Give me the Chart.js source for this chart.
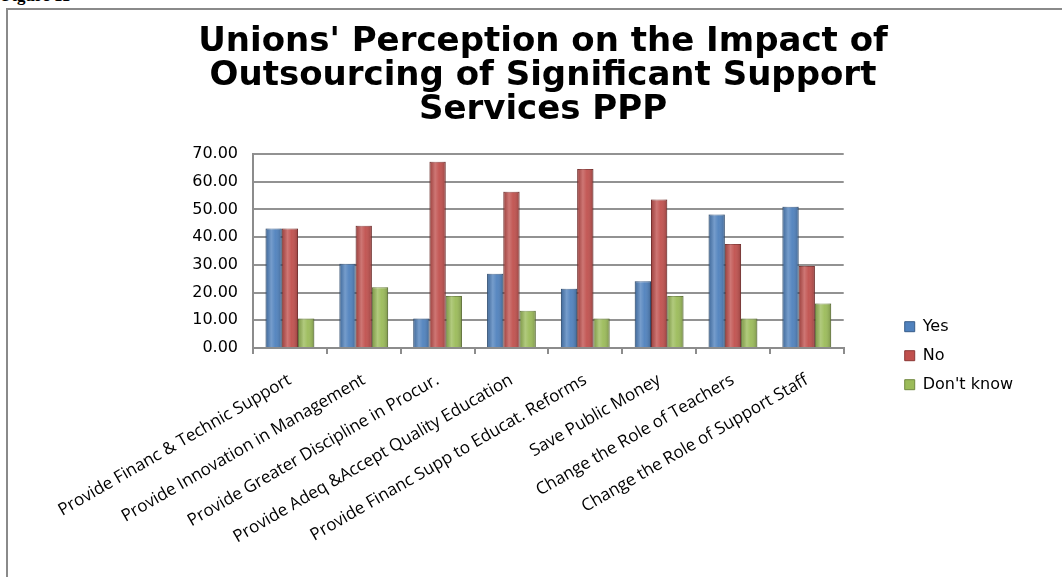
<!DOCTYPE html>
<html>
<head>
<meta charset="utf-8">
<script src="https://cdn.jsdelivr.net/npm/chart.js@4.4.1/dist/chart.umd.min.js"></script>
<style>
    html, body { margin: 0; padding: 0; background: #fff; }
    #wrap { position: relative; width: 1062px; height: 577px; overflow: hidden; }
    #fig { position: absolute; left: 2px; top: -14px; font: bold 17px "Liberation Serif", serif; color: #000; }
    #frame { position: absolute; left: 6px; top: 8px; width: 1200px; height: 700px;
             border-left: 2px solid #8a8a8a; border-top: 2px solid #8a8a8a; }
    #chart { position: absolute; left: 0; top: 0; }
</style>
</head>
<body>
<div id="wrap">
    <div id="fig">Figure 11</div>
    <div id="frame"></div>
    <canvas id="chart" width="1062" height="577"></canvas>
</div>
<script>
const categories = [
    'Provide Financ & Technic Support',
    'Provide Innovation in Management',
    'Provide Greater Discipline in Procur.',
    'Provide Adeq &Accept Quality Education',
    'Provide Financ Supp to Educat. Reforms',
    'Save Public Money',
    'Change the Role of Teachers',
    'Change the Role of Support Staff'
];
const yesValues = [43.1, 30.4, 10.6, 26.8, 21.4, 24.1, 48.2, 51.0];
const noValues = [43.1, 44.1, 67.2, 56.4, 64.6, 53.6, 37.5, 29.6];
const dontKnowValues = [10.6, 21.9, 18.8, 13.4, 10.6, 18.8, 10.6, 16.1];
const yTicks = [0, 10, 20, 30, 40, 50, 60, 70];

const titleLines = [
    "Unions' Perception on the Impact of",
    'Outsourcing of Significant Support',
    'Services PPP'
];

// soft cylinder shading on top of the bars the library drew
const shadePlugin = {
    id: 'shade',
    afterDatasetsDraw(chart) {
        const c = chart.ctx;
        chart.data.datasets.forEach((ds, i) => {
            chart.getDatasetMeta(i).data.forEach(bar => {
                const p = bar.getProps(['x', 'y', 'base', 'width']);
                const left = p.x - p.width / 2;
                const g = c.createLinearGradient(left, 0, left + p.width, 0);
                g.addColorStop(0, 'rgba(0,0,0,0.18)');
                g.addColorStop(0.35, 'rgba(255,255,255,0.22)');
                g.addColorStop(0.6, 'rgba(255,255,255,0.05)');
                g.addColorStop(1, 'rgba(0,0,0,0.22)');
                c.save();
                c.fillStyle = g;
                c.fillRect(left, p.y, p.width, p.base - p.y);
                c.restore();
            });
        });
    }
};

const ctx = document.getElementById('chart');

new Chart(ctx, {
    type: 'bar',
    data: {
        labels: categories,
        datasets: [
            { label: 'Yes', data: yesValues, backgroundColor: '#4f81bd', borderColor: '#385d8a', borderWidth: 1 },
            { label: 'No', data: noValues, backgroundColor: '#c0504d', borderColor: '#8c3836', borderWidth: 1 },
            { label: "Don't know", data: dontKnowValues, backgroundColor: '#9bbb59', borderColor: '#71893f', borderWidth: 1 }
        ]
    },
    options: {
        responsive: false,
        animation: false,
        layout: { padding: { top: 8, left: 63, right: 39, bottom: 0 } },
        datasets: {
            bar: { categoryPercentage: 0.66, barPercentage: 1 }
        },
        plugins: {
            title: {
                display: true,
                text: titleLines,
                color: '#000',
                font: { family: 'DejaVu Sans', size: 34, weight: 'bold', lineHeight: 1.0 },
                padding: { top: 17, bottom: 27 }
            },
            legend: {
                position: 'right',
                title: { display: true, text: '', font: { size: 12 }, padding: { top: 112, bottom: 0 } },
                labels: {
                    boxWidth: 10,
                    boxHeight: 10,
                    padding: 13,
                    color: '#000',
                    font: { family: 'DejaVu Sans', size: 16 }
                }
            },
            tooltip: { enabled: false }
        },
        scales: {
            x: {
                grid: { drawOnChartArea: false, drawTicks: true, tickLength: 6, color: '#8c8c8c', lineWidth: 2, offset: true },
                border: { display: true, color: '#8c8c8c', width: 2 },
                ticks: {
                    autoSkip: false,
                    minRotation: 30,
                    maxRotation: 30,
                    padding: 16,
                    color: '#000',
                    font: { family: 'Open Sans', size: 17 }
                },
                afterFit: (s) => { s.height = 229; }
            },
            y: {
                min: 0,
                max: 70,
                afterBuildTicks: (s) => { s.ticks = yTicks.map(v => ({ value: v })); },
                grid: { color: '#929292', lineWidth: 2, drawTicks: false },
                border: { display: true, color: '#8c8c8c', width: 2 },
                ticks: {
                    padding: 15,
                    color: '#000',
                    font: { family: 'DejaVu Sans', size: 16 },
                    callback: (value) => Number(value).toFixed(2)
                },
                afterFit: (s) => { s.width = 190; }
            },
            gap: {
                type: 'linear',
                position: 'right',
                grid: { display: false },
                border: { display: false },
                ticks: { display: false },
                afterFit: (s) => { s.width = 48; }
            }
        }
    },
    plugins: [shadePlugin]
});
</script>
</body>
</html>
